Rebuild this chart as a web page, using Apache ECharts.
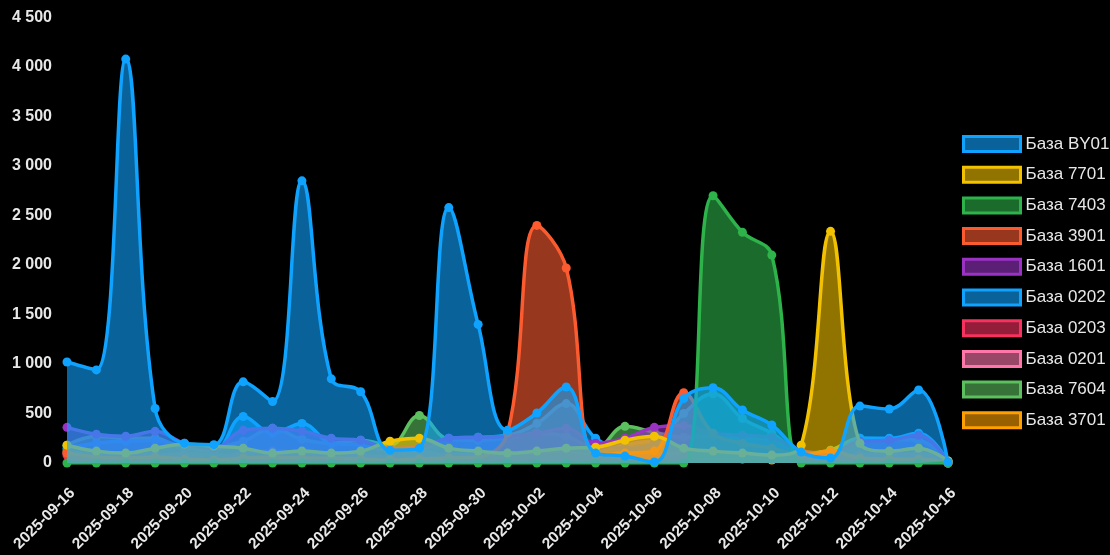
<!DOCTYPE html>
<html>
<head>
<meta charset="utf-8">
<script src="https://cdn.jsdelivr.net/npm/echarts@6/dist/echarts.min.js"></script>
<style>
  html, body { margin: 0; padding: 0; background: #000; }
  #chart { width: 1110px; height: 555px; }
</style>
</head>
<body>
<div id="chart"></div>
<script>
// Daily volumes per base, 2025-09-16 .. 2025-10-16
const dates = [
  '2025-09-16','2025-09-17','2025-09-18','2025-09-19','2025-09-20','2025-09-21','2025-09-22',
  '2025-09-23','2025-09-24','2025-09-25','2025-09-26','2025-09-27','2025-09-28','2025-09-29',
  '2025-09-30','2025-10-01','2025-10-02','2025-10-03','2025-10-04','2025-10-05','2025-10-06',
  '2025-10-07','2025-10-08','2025-10-09','2025-10-10','2025-10-11','2025-10-12','2025-10-13',
  '2025-10-14','2025-10-15','2025-10-16'
];

const baseNames = ['База BY01','База 7701','База 7403','База 3901','База 1601',
                   'База 0202','База 0203','База 0201','База 7604','База 3701'];

const baseColors = ['#0fa3ff','#f2c200','#2db34a','#fc5b30','#9a33c4',
                    '#0fa3ff','#f7325f','#ff77aa','#5cc05e','#ffa000'];

const valuesBY01 = [1020, 940, 4080, 550, 200, 185, 820, 620, 2850, 850, 720, 130, 150, 2580, 1400,
                    330, 505, 768, 100, 70, 10, 650, 760, 535, 384, 110, 50, 575, 545, 737, 10];
const values7701 = [180, 120, 100, 150, 190, 170, 150, 100, 120, 100, 120, 220, 250, 150, 120,
                    100, 120, 150, 160, 230, 270, 150, 120, 100, 80, 180, 2340, 200, 120, 150, 20];
const values7403 = [0, 0, 0, 0, 0, 0, 0, 0, 0, 0, 0, 0, 0, 0, 0,
                    0, 0, 0, 0, 0, 0, 0, 2700, 2330, 2100, 0, 0, 0, 0, 0, 0];
const values3901 = [100, 60, 50, 60, 40, 30, 50, 60, 50, 50, 40, 30, 40, 50, 60,
                    300, 2400, 1970, 80, 100, 120, 710, 300, 200, 150, 80, 120, 50, 40, 40, 0];
const values1601 = [360, 290, 270, 320, 200, 150, 330, 350, 320, 250, 230, 150, 160, 250, 260,
                    270, 300, 350, 200, 250, 360, 380, 300, 280, 260, 120, 100, 220, 230, 280, 10];
const values0202 = [150, 200, 220, 230, 160, 120, 470, 300, 400, 200, 180, 120, 140, 250, 260,
                    280, 400, 600, 250, 150, 200, 500, 700, 450, 300, 100, 60, 250, 250, 300, 10];
const values0203 = [80, 60, 70, 60, 40, 30, 60, 70, 60, 50, 40, 30, 30, 50, 50,
                    60, 70, 80, 50, 40, 50, 60, 50, 50, 40, 100, 60, 50, 40, 40, 0];
const values0201 = [100, 80, 90, 80, 60, 40, 100, 120, 100, 80, 70, 60, 50, 80, 80,
                    100, 120, 110, 70, 60, 80, 100, 90, 80, 70, 60, 40, 80, 80, 90, 0];
const values7604 = [180, 270, 250, 250, 150, 160, 220, 350, 240, 200, 230, 180, 480, 240, 230,
                    250, 300, 270, 150, 370, 310, 260, 270, 250, 240, 100, 130, 250, 240, 230, 10];
const values3701 = [120, 80, 60, 70, 90, 80, 60, 50, 60, 50, 40, 60, 120, 60, 50,
                    40, 50, 60, 100, 180, 220, 100, 50, 40, 30, 100, 80, 40, 30, 30, 20];

const baseValues = [valuesBY01, values7701, values7403, values3901, values1601,
                    values0202, values0203, values0201, values7604, values3701];

const fontFamily = '"Liberation Sans", Arial, sans-serif';

function withAlpha(hex, a) {
  const n = parseInt(hex.slice(1), 16);
  return 'rgba(' + ((n >> 16) & 255) + ',' + ((n >> 8) & 255) + ',' + (n & 255) + ',' + a + ')';
}

function groupThousands(v) {
  return String(v).replace(/\B(?=(\d{3})+(?!\d))/g, ' ');
}

// First base is painted last so it sits on top of the others
const series = baseNames.map((name, i) => ({
  name: name,
  type: 'line',
  data: baseValues[i],
  smooth: 0.4,
  symbol: 'circle',
  symbolSize: 9,
  z: 2 + (baseNames.length - i),
  lineStyle: { color: baseColors[i], width: 3.5 },
  itemStyle: { color: baseColors[i] },
  areaStyle: { color: withAlpha(baseColors[i], 0.6), opacity: 1, origin: 'start' },
  emphasis: { disabled: true }
})).reverse();

const chart = echarts.init(document.getElementById('chart'), null, { renderer: 'canvas' });
chart.setOption({
  backgroundColor: '#000',
  animation: false,
  textStyle: { fontFamily: fontFamily },
  grid: { left: 67, right: 162, top: 17.5, bottom: 92, containLabel: false },
  legend: {
    orient: 'vertical',
    left: 962,
    top: 135,
    padding: 0,
    icon: 'rect',
    itemWidth: 57,
    itemHeight: 15,
    itemGap: 12.7,
    textStyle: { color: '#e8e8e8', fontSize: 17, lineHeight: 18, fontFamily: fontFamily },
    data: baseNames.map((name, i) => ({
      name: name,
      itemStyle: {
        color: withAlpha(baseColors[i], 0.6),
        borderColor: baseColors[i],
        borderWidth: 3
      }
    }))
  },
  xAxis: {
    type: 'category',
    data: dates,
    boundaryGap: false,
    axisLine: { show: false },
    axisTick: { show: false },
    splitLine: { show: false },
    axisLabel: {
      interval: 1,
      rotate: 45,
      margin: 22,
      verticalAlign: 'top',
      color: '#e8e8e8',
      fontSize: 15.5,
      fontWeight: 'bold',
      fontFamily: fontFamily
    }
  },
  yAxis: {
    type: 'value',
    min: 0,
    max: 4500,
    interval: 500,
    axisLine: { show: false },
    axisTick: { show: false },
    splitLine: { show: false },
    axisLabel: {
      margin: 15,
      color: '#e8e8e8',
      fontSize: 16,
      fontWeight: 'bold',
      fontFamily: fontFamily,
      formatter: groupThousands
    }
  },
  series: series
});
</script>
</body>
</html>
